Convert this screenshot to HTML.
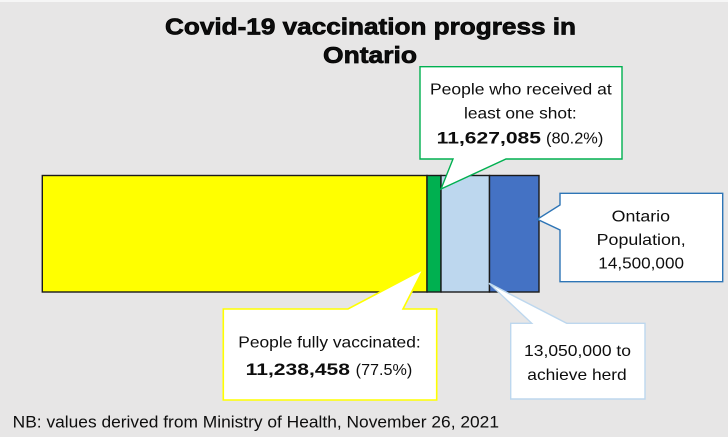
<!DOCTYPE html>
<html>
<head>
<meta charset="utf-8">
<style>
  html, body { margin: 0; padding: 0; background: #e7e6e6; }
  svg { display: block; }
  text { font-family: "Liberation Sans", Arial, sans-serif; fill: #0d0d0d; }
</style>
</head>
<body>
<svg width="728" height="437" viewBox="0 0 728 437" xmlns="http://www.w3.org/2000/svg">
  <rect x="0" y="0" width="728" height="437" fill="#e7e6e6"/>
  <rect x="0" y="0" width="728" height="2" fill="#f6f6f6"/>

  <!-- Title -->
  <text x="165" y="34.5" font-size="23" font-weight="bold" stroke="#000" stroke-width="0.7" textLength="411" lengthAdjust="spacingAndGlyphs">Covid-19 vaccination progress in</text>
  <text x="323" y="63" font-size="23" font-weight="bold" stroke="#000" stroke-width="0.7" textLength="94" lengthAdjust="spacingAndGlyphs">Ontario</text>

  <!-- Bar -->
  <g stroke="#1a1a1a" stroke-width="1.4">
    <rect x="42.3" y="175.5" width="384.7" height="116.5" fill="#ffff00"/>
    <rect x="427" y="175.5" width="14" height="116.5" fill="#00b050"/>
    <rect x="441" y="175.5" width="48.5" height="116.5" fill="#bdd7ee"/>
    <rect x="489.5" y="175.5" width="49.5" height="116.5" fill="#4472c4"/>
  </g>

  <!-- Green callout -->
  <path d="M420,66.7 H622 V159 H506 L441,189 L453,159 H420 Z" fill="#ffffff" stroke="#00b050" stroke-width="1.4"/>
  <text x="430" y="94.3" font-size="16" textLength="181.7" lengthAdjust="spacingAndGlyphs">People who received at</text>
  <text x="464" y="118.3" font-size="16" textLength="112.7" lengthAdjust="spacingAndGlyphs">least one shot:</text>
  <text x="436.7" y="143.3" font-size="17" font-weight="bold" textLength="104.3" lengthAdjust="spacingAndGlyphs">11,627,085</text>
  <text x="546" y="143.3" font-size="16" textLength="57.3" lengthAdjust="spacingAndGlyphs">(80.2%)</text>

  <!-- Blue callout -->
  <path d="M560,193.3 H722.7 V281.7 H560 V230 L537.3,219.3 L560,205 Z" fill="#ffffff" stroke="#2e75b6" stroke-width="1.4"/>
  <text x="611.7" y="221.7" font-size="16" textLength="58.3" lengthAdjust="spacingAndGlyphs">Ontario</text>
  <text x="596.7" y="245" font-size="16" textLength="89" lengthAdjust="spacingAndGlyphs">Population,</text>
  <text x="598.3" y="268.3" font-size="16" textLength="85.7" lengthAdjust="spacingAndGlyphs">14,500,000</text>

  <!-- Yellow callout -->
  <path d="M223.3,309 H348 L423.3,269.3 L403,309 H436.7 V400 H223.3 Z" fill="#ffffff" stroke="#ffff00" stroke-width="1.6"/>
  <text x="238.3" y="347.3" font-size="16" textLength="182.4" lengthAdjust="spacingAndGlyphs">People fully vaccinated:</text>
  <text x="245.7" y="375" font-size="17" font-weight="bold" textLength="104.3" lengthAdjust="spacingAndGlyphs">11,238,458</text>
  <text x="355.7" y="375" font-size="16" textLength="56.6" lengthAdjust="spacingAndGlyphs">(77.5%)</text>

  <!-- Light blue callout -->
  <path d="M510.7,323.3 H531.7 L489,283.3 L566.7,323.3 H645 V399 H510.7 Z" fill="#ffffff" stroke="#bdd7ee" stroke-width="1.4"/>
  <text x="524" y="356" font-size="16" textLength="107" lengthAdjust="spacingAndGlyphs">13,050,000 to</text>
  <text x="527.3" y="380" font-size="16" textLength="99.4" lengthAdjust="spacingAndGlyphs">achieve herd</text>

  <!-- Footnote -->
  <text x="12.7" y="427.3" font-size="17" textLength="486.3" lengthAdjust="spacingAndGlyphs">NB: values derived from Ministry of Health, November 26, 2021</text>
</svg>
</body>
</html>
